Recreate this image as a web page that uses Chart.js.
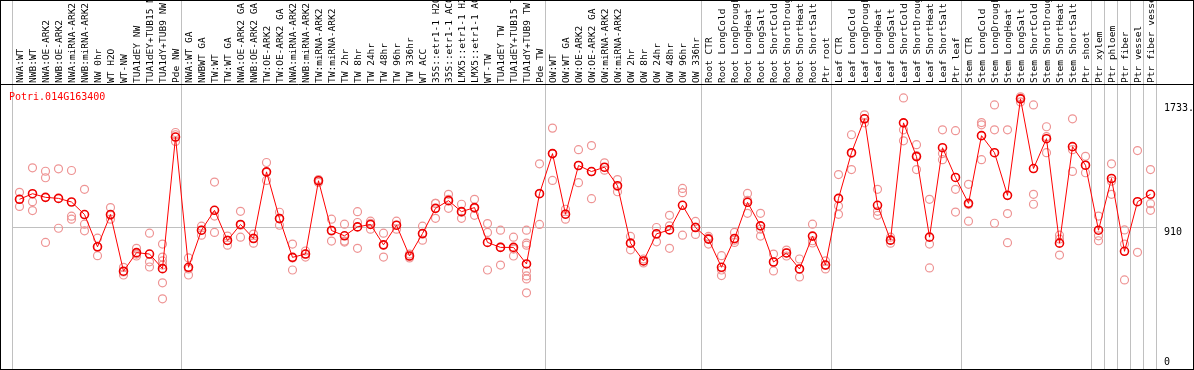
<!DOCTYPE html>
<html>
<head>
<meta charset="utf-8">
<script src="https://cdn.jsdelivr.net/npm/chart.js@4"></script>
<style>
  body { margin: 0; background: #fff; }
  canvas { display: block; }
</style>
</head>
<body>
<canvas id="expr" width="1194" height="370"></canvas>
<script>
const geneId = "Potri.014G163400";

const samples = [
  "NWA:WT", "NWB:WT", "NWA:OE-ARK2", "NWB:OE-ARK2", "NWA:miRNA-ARK2", "NWB:miRNA-ARK2",
  "NW 0hr", "WT H2O", "WT-NW", "TUA1dEY NW", "TUA1dEY+TUB15 NW", "TUA1dY+TUB9 NW", "Pde NW",
  "NWA:WT GA", "NWBWT GA", "TW:WT", "TW:WT GA", "NWA:OE-ARK2 GA", "NWB:OE-ARK2 GA",
  "TW:OE-ARK2", "TW:OE-ARK2 GA", "NWA:miRNA-ARK2", "NWB:miRNA-ARK2", "TW:miRNA-ARK2", "TW:miRNA-ARK2",
  "TW 2hr", "TW 8hr", "TW 24hr", "TW 48hr", "TW 96hr", "TW 336hr", "WT ACC",
  "35S::etr1-1 H2O", "35S::etr1-1 ACC", "LMX5::etr1-1 H2O", "LMX5::etr1-1 ACC",
  "WT-TW", "TUA1dEY TW", "TUA1dEY+TUB15 TW", "TUA1dY+TUB9 TW", "Pde TW",
  "OW:WT", "OW:WT GA", "OW:OE-ARK2", "OW:OE-ARK2 GA", "OW:miRNA-ARK2", "OW:miRNA-ARK2",
  "OW 2hr", "OW 8hr", "OW 24hr", "OW 48hr", "OW 96hr", "OW 336hr",
  "Root CTR", "Root LongCold", "Root LongDrought", "Root LongHeat", "Root LongSalt",
  "Root ShortCold", "Root ShortDrought", "Root ShortHeat", "Root ShortSalt", "Ptr root",
  "Leaf CTR", "Leaf LongCold", "Leaf LongDrought", "Leaf LongHeat", "Leaf LongSalt",
  "Leaf ShortCold", "Leaf ShortDrought", "Leaf ShortHeat", "Leaf ShortSalt", "Ptr leaf",
  "Stem CTR", "Stem LongCold", "Stem LongDrought", "Stem LongHeat", "Stem LongSalt",
  "Stem ShortCold", "Stem ShortDrought", "Stem ShortHeat", "Stem ShortSalt", "Ptr shoot",
  "Ptr xylem", "Ptr phloem", "Ptr fiber", "Ptr vessel", "Ptr fiber vessel"
];

// last sample index of each experiment group
const groupEnds = [12, 40, 52, 62, 72, 82, 83, 84, 85, 86, 87];

const means = [
  1095, 1132, 1108, 1101, 1077, 994, 780, 994, 618, 741, 732, 635, 1508,
  644, 890, 1022, 822, 928, 835, 1277, 967, 710, 732, 1218, 888, 853, 912, 928, 793, 923, 719, 868,
  1035, 1086, 1013, 1040, 809, 776, 776, 666, 1132,
  1398, 996, 1319, 1279, 1308, 1185, 804, 686, 866, 892, 1055, 908,
  831, 644, 835, 1075, 919, 679, 739, 633, 851, 659,
  1101, 1404, 1629, 1055, 824, 1602, 1378, 844, 1437, 1240,
  1068, 1517, 1404, 1121, 1761, 1299, 1497, 804, 1444, 1321,
  890, 1233, 750, 1079, 1128
];

const replicates = [
  [1141, 1095, 1048], [1304, 1079, 1020], [1281, 1238, 809], [1297, 903], [1286, 983, 963],
  [1161, 930, 886], [837, 778, 721], [1040, 989, 963], [644, 613, 593], [770, 732, 719],
  [870, 680, 646], [798, 712, 686, 659, 541, 435], [1538, 1523, 1479],
  [706, 633, 593], [917, 890, 857], [1209, 984, 875], [851, 824, 791], [1015, 923, 844],
  [864, 837, 804], [1339, 1273, 1220], [1009, 969, 923], [798, 706, 626], [752, 732, 712],
  [1226, 1220, 1207], [963, 884, 818], [930, 818, 811], [1013, 941, 770], [950, 936, 897],
  [870, 791, 712], [950, 923, 897], [732, 719, 706], [917, 864, 824], [1068, 1068, 969],
  [1128, 1095, 1035], [1062, 1009, 969], [1095, 1035, 989], [934, 875, 626], [890, 778, 659],
  [844, 765, 719], [890, 804, 791, 620, 587, 567, 475], [1330, 1134, 928],
  [1567, 1398, 1220], [1029, 996, 963], [1424, 1319, 1205], [1451, 1279, 1099],
  [1337, 1306, 1288], [1226, 1180, 1145], [849, 804, 760], [699, 686, 673], [908, 864, 813],
  [989, 919, 770], [1167, 1139, 857], [948, 910, 862],
  [849, 837, 798], [721, 626, 589], [875, 824, 809], [1134, 1088, 1002], [1002, 897, 851],
  [732, 679, 620], [758, 739, 719], [699, 633, 580], [930, 820, 805], [686, 659, 633],
  [1259, 1050, 995], [1523, 1400, 1292], [1655, 1629, 1602], [1161, 1015, 989], [844, 824, 804],
  [1767, 1556, 1483], [1457, 1385, 1292], [1095, 798, 640], [1556, 1398, 1358], [1550, 1161, 1010],
  [1194, 1060, 950], [1589, 1604, 1358], [1721, 1556, 936], [1556, 1000, 807], [1767, 1775, 1741],
  [1721, 1128, 1062], [1576, 1510, 1404], [857, 831, 725], [1629, 1424, 1280], [1380, 1319, 1271],
  [984, 853, 820], [1330, 1215, 1128], [892, 798, 560], [1418, 743], [1292, 1066, 1022]
];

const yTicks = [0, 910, 1733];
const yTickLabels = ["0", "910", "1733."];

const mono = "'DejaVu Sans Mono', 'Liberation Mono', monospace";

// one scatter-ish dataset per replicate slot
const maxReps = Math.max(...replicates.map(r => r.length));
const repSets = [];
for (let k = 0; k < maxReps; k++) {
  repSets.push({
    label: "rep" + (k + 1),
    data: replicates.map(r => (r[k] === undefined ? null : r[k])),
    showLine: false,
    pointRadius: 4,
    pointBorderWidth: 1.2,
    pointBorderColor: "#ee9494",
    pointBackgroundColor: "rgba(0,0,0,0)",
    order: 2
  });
}

const framePlugin = {
  id: "frame",
  beforeDatasetsDraw(chart) {
    const ctx = chart.ctx;
    const x = chart.scales.x;
    const half = (x.getPixelForValue(1) - x.getPixelForValue(0)) / 2;
    ctx.save();
    ctx.strokeStyle = "#c0c0c0";
    ctx.lineWidth = 1;
    const lines = [-1].concat(groupEnds);
    lines.forEach(i => {
      const px = Math.round(x.getPixelForValue(i) + half - 1.5) + 0.5;
      ctx.beginPath();
      ctx.moveTo(px, 0);
      ctx.lineTo(px, chart.height);
      ctx.stroke();
    });
    ctx.restore();
  },
  afterDraw(chart) {
    const ctx = chart.ctx;
    const area = chart.chartArea;
    const y = chart.scales.y;
    ctx.save();
    ctx.strokeStyle = "#000";
    ctx.lineWidth = 1;
    ctx.beginPath();
    ctx.moveTo(0, Math.round(area.top) - 0.5);
    ctx.lineTo(chart.width, Math.round(area.top) - 0.5);
    ctx.stroke();
    ctx.strokeRect(0.5, 0.5, chart.width - 1, chart.height - 1);

    ctx.font = "10px " + mono;
    ctx.fillStyle = "#000";
    ctx.textAlign = "left";
    ctx.textBaseline = "top";
    yTicks.forEach((v, i) => {
      let py = y.getPixelForValue(v);
      if (v === 0) py -= 7;
      ctx.fillText(yTickLabels[i], area.right + 7, py);
    });

    ctx.fillStyle = "#ff0000";
    ctx.fillText(geneId, 9, area.top + 7);
    ctx.restore();
  }
};

new Chart(document.getElementById("expr"), {
  type: "line",
  data: {
    labels: samples,
    datasets: [
      {
        label: geneId,
        data: means,
        borderColor: "#ff0000",
        borderWidth: 1,
        tension: 0,
        pointRadius: 4,
        pointBorderWidth: 1.6,
        pointBorderColor: "#ee0000",
        pointBackgroundColor: "rgba(0,0,0,0)",
        order: 1
      }
    ].concat(repSets)
  },
  options: {
    responsive: false,
    animation: false,
    devicePixelRatio: 1,
    layout: { padding: { left: 13, right: 0, top: 0, bottom: 4 } },
    plugins: {
      legend: { display: false },
      tooltip: { enabled: false }
    },
    scales: {
      x: {
        type: "category",
        position: "top",
        offset: true,
        grid: { display: false, drawTicks: false },
        border: { display: false },
        ticks: {
          autoSkip: false,
          minRotation: 90,
          maxRotation: 90,
          padding: 2,
          labelOffset: 12,
          color: "#000",
          font: { family: mono, size: 9.5 }
        },
        afterFit(scale) { scale.height = 85; }
      },
      y: {
        position: "right",
        min: 0,
        max: 1853,
        afterBuildTicks(scale) { scale.ticks = yTicks.map(v => ({ value: v })); },
        grid: {
          drawTicks: false,
          color: ctx => (ctx.tick && ctx.tick.value === 910 ? "#c0c0c0" : "rgba(0,0,0,0)")
        },
        border: { display: false },
        ticks: { display: false },
        afterFit(scale) { scale.width = 37; }
      }
    }
  },
  plugins: [framePlugin]
});
</script>
</body>
</html>
